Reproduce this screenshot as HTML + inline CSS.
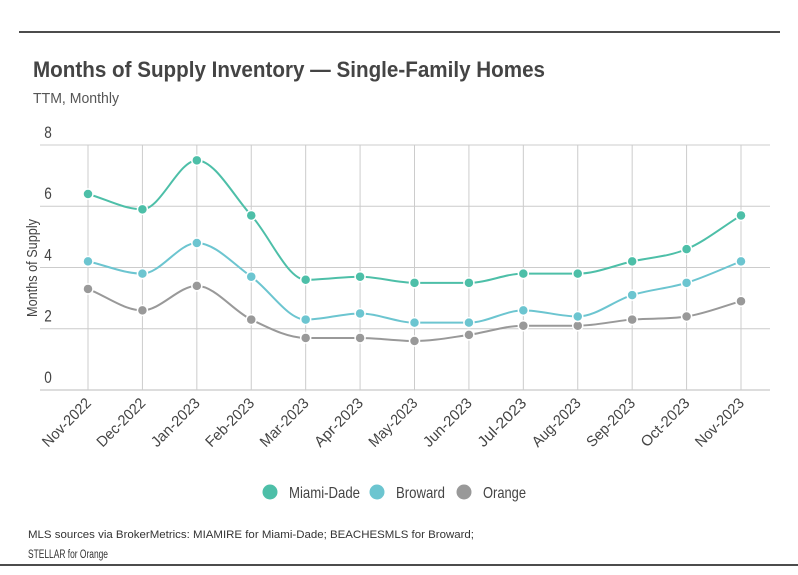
<!DOCTYPE html>
<html><head><meta charset="utf-8"><style>
html,body{margin:0;padding:0;background:#fff;}
svg{display:block;font-family:"Liberation Sans",sans-serif;}
</style></head><body>
<svg id="chart" width="798" height="575" viewBox="0 0 798 575">
<line x1="19" y1="32" x2="780" y2="32" stroke="#111" stroke-width="1.5"/>
<line x1="0" y1="565" x2="798" y2="565" stroke="#111" stroke-width="1.5"/>
<text x="33" y="77" font-size="22" font-weight="bold" fill="#444" textLength="512" lengthAdjust="spacingAndGlyphs">Months of Supply Inventory — Single-Family Homes</text>
<text x="33" y="103" font-size="15" fill="#555" textLength="86" lengthAdjust="spacingAndGlyphs">TTM, Monthly</text>
<text transform="translate(37,268) rotate(-90)" text-anchor="middle" font-size="15" fill="#444" textLength="98" lengthAdjust="spacingAndGlyphs">Months of Supply</text>
<g id="grid"></g><g id="series"></g><g id="xlabels"></g>
<g id="legend"></g>
<text x="28" y="538" font-size="11" fill="#333" textLength="446" lengthAdjust="spacingAndGlyphs">MLS sources via BrokerMetrics: MIAMIRE for Miami-Dade; BEACHESMLS for Broward;</text>
<text x="28" y="558" font-size="11.5" fill="#333" textLength="80" lengthAdjust="spacingAndGlyphs">STELLAR for Orange</text>
</svg>
<script>
const categories=["Nov-2022","Dec-2022","Jan-2023","Feb-2023","Mar-2023","Apr-2023","May-2023","Jun-2023","Jul-2023","Aug-2023","Sep-2023","Oct-2023","Nov-2023"];
const miamiDade=[6.4,5.9,7.5,5.7,3.6,3.7,3.5,3.5,3.8,3.8,4.2,4.6,5.7];
const broward=[4.2,3.8,4.8,3.7,2.3,2.5,2.2,2.2,2.6,2.4,3.1,3.5,4.2];
const orange=[3.3,2.6,3.4,2.3,1.7,1.7,1.6,1.8,2.1,2.1,2.3,2.4,2.9];
const yTicks=[0,2,4,6,8];
const seriesNames=["Miami-Dade","Broward","Orange"];
const NS="http://www.w3.org/2000/svg";
const x0=88,x1=741,yBase=390,yTop=145,yMax=8;
function xs(i){return x0+i*(x1-x0)/(categories.length-1);}
function ys(v){return yBase-(v/yMax)*(yBase-yTop);}
function mk(t,a,p){const e=document.createElementNS(NS,t);for(const k in a)e.setAttribute(k,a[k]);p.appendChild(e);return e;}
const grid=document.getElementById('grid');
yTicks.forEach(t=>{
  const l=mk('line',{x1:40,x2:770,y1:ys(t),y2:ys(t),stroke:t===0?'#bbb':'#ccc','stroke-width':1},grid);
  
  
  const tx=mk('text',{x:48,y:ys(t)-7,'font-size':17,fill:'#444','text-anchor':'middle',transform:`scale(0.8,1) translate(${48*0.25},0)`},grid);
  tx.textContent=t;
  
  
});
categories.forEach((c,i)=>{
  const l=mk('line',{x1:xs(i),x2:xs(i),y1:yTop,y2:yBase,stroke:'#ccc','stroke-width':1},grid);
  
  
  const tx=mk('text',{transform:`translate(${xs(i)+4},${yBase+14}) rotate(-45)`,'font-size':15,fill:'#444','text-anchor':'end',textLength:62,lengthAdjust:'spacingAndGlyphs'},document.getElementById('xlabels'));
  tx.textContent=c;
  
  
});
function monotonePath(pts){
  const n=pts.length,d=[],m=[];
  for(let i=0;i<n-1;i++)d.push((pts[i+1][1]-pts[i][1])/(pts[i+1][0]-pts[i][0]));
  for(let i=0;i<n;i++){
    if(i===0)m.push(d[0]);else if(i===n-1)m.push(d[n-2]);
    else m.push(d[i-1]*d[i]<=0?0:(d[i-1]+d[i])/2);
  }
  for(let i=0;i<n-1;i++){
    if(d[i]===0){m[i]=0;m[i+1]=0;continue;}
    const a=m[i]/d[i],b=m[i+1]/d[i],s=a*a+b*b;
    if(s>9){const t=3/Math.sqrt(s);m[i]=t*a*d[i];m[i+1]=t*b*d[i];}
  }
  let p=`M${pts[0][0]},${pts[0][1]}`;
  for(let i=0;i<n-1;i++){
    const h=(pts[i+1][0]-pts[i][0])/3;
    p+=`C${pts[i][0]+h},${pts[i][1]+m[i]*h} ${pts[i+1][0]-h},${pts[i+1][1]-m[i+1]*h} ${pts[i+1][0]},${pts[i+1][1]}`;
  }
  return p;
}
const colors=["#4dbfa8","#6cc5d0","#999999"];
const sg=document.getElementById('series');
[orange,broward,miamiDade].forEach((vals,k)=>{
  const idx=2-k;
  const g=mk('g',{},sg);
  
  
  const pts=vals.map((v,i)=>[xs(i),ys(v)]);
  const p=mk('path',{d:monotonePath(pts),fill:'none',stroke:colors[idx],'stroke-width':2},g);
  
  
  pts.forEach((q,i)=>{
    const c=mk('circle',{cx:q[0],cy:q[1],r:5,fill:colors[idx],stroke:'#fff','stroke-width':1.5},g);
    
    
  });
});
const lg=document.getElementById('legend');
const lx=[270,377,464],lw=[71,49,43];
seriesNames.forEach((s,i)=>{
  const g=mk('g',{},lg);
  
  
  mk('circle',{cx:lx[i],cy:492,r:7.5,fill:colors[i]},g);
  const t=mk('text',{x:lx[i]+19,y:498,'font-size':16,fill:'#444',textLength:lw[i],lengthAdjust:'spacingAndGlyphs'},g);
  t.textContent=s;
});
</script>
</body></html>
